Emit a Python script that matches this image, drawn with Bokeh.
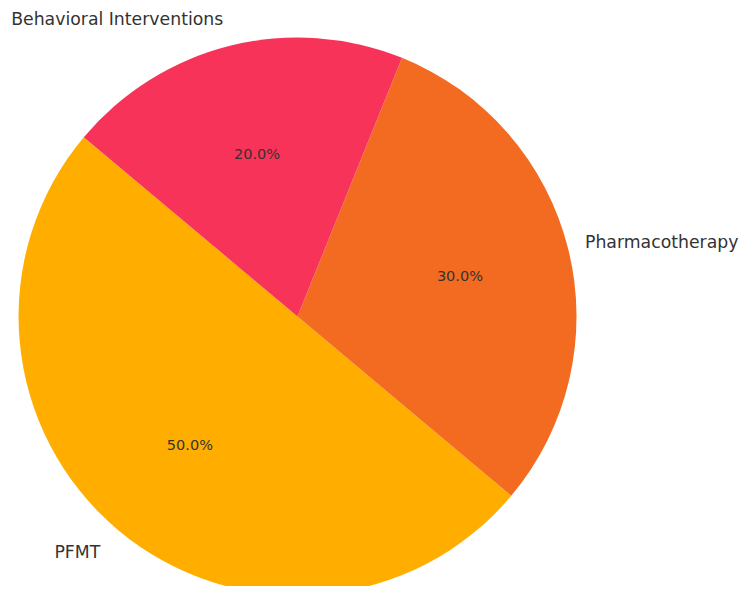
import math
from bokeh.plotting import figure
from bokeh.models import Range1d, ColumnDataSource
from bokeh.core.properties import value
from bokeh.embed import file_html
from bokeh.resources import INLINE

categories = ["PFMT", "Pharmacotherapy", "Behavioral Interventions"]
shares = [50.0, 30.0, 20.0]
colors = ["#FFAE00", "#F26B21", "#F73359"]

W, H = 741, 586
CX, CY, R = 297, -316, 279
START = 140.0

starts, ends, lx, ly, la, px, py, pct = [], [], [], [], [], [], [], []
total = sum(shares)
a = START
for c, s in zip(categories, shares):
    span = 360.0 * s / total
    a0, a1 = a, a + span
    starts.append(math.radians(a0))
    ends.append(math.radians(a1))
    mid = math.radians((a0 + a1) / 2)
    x_lab = CX + 1.1 * R * math.cos(mid)
    align = "left" if math.cos(mid) >= 0 else "right"
    if align == "left":
        # keep the label inside the canvas: anchor its right end at the edge
        x_lab = W - 3
        align = "right"
    lx.append(x_lab)
    ly.append(CY + 1.1 * R * math.sin(mid))
    la.append(align)
    px.append(CX + 0.6 * R * math.cos(mid))
    py.append(CY + 0.6 * R * math.sin(mid))
    pct.append(f"{s:.1f}%")
    a = a1

src = ColumnDataSource(dict(start=starts, end=ends, color=colors, cat=categories,
                            lx=lx, ly=ly, la=la, px=px, py=py, pct=pct))

p = figure(width=W, height=H, output_backend="svg", toolbar_location=None,
           x_range=Range1d(0, W), y_range=Range1d(-H, 0),
           min_border=0)
p.axis.visible = False
p.grid.visible = False
p.outline_line_color = None
p.background_fill_color = "white"
p.border_fill_color = "white"

p.wedge(x=CX, y=CY, radius=R, start_angle="start", end_angle="end",
        fill_color="color", line_color=None, source=src)

p.text(x="lx", y="ly", text="cat", text_align="la", text_baseline="middle",
       text_font=value("DejaVu Sans"), text_font_size="17.3px", text_color="#333333",
       source=src)
p.text(x="px", y="py", text="pct", text_align="center", text_baseline="middle",
       text_font=value("DejaVu Sans"), text_font_size="14.5px", text_color="#333333",
       source=src)

open("out.html", "w").write(file_html(p, INLINE))
